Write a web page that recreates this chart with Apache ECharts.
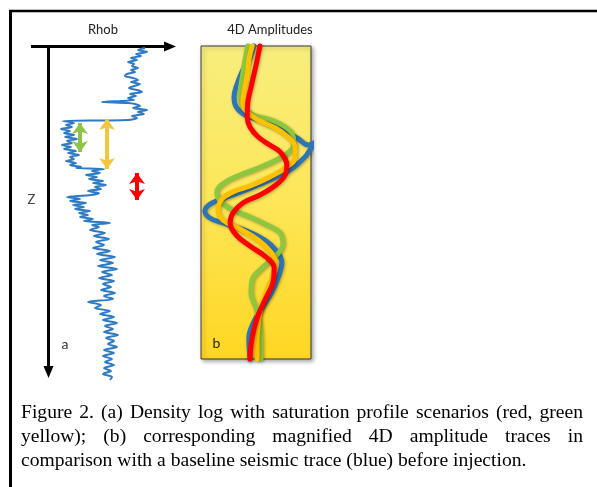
<!DOCTYPE html>
<html>
<head>
<meta charset="utf-8">
<script src="https://cdn.jsdelivr.net/npm/echarts/dist/echarts.min.js"></script>
<style>
  html, body { margin: 0; padding: 0; background: #ffffff; }
  #chart { width: 597px; height: 487px; }
</style>
</head>
<body>
<div id="chart"></div>
<script>
// ---- (a) density log: depth (m) and bulk density Rhob (g/cc) ----
const logDepth = [
  2, 4, 6, 8, 10, 12, 14, 16, 18, 20, 22, 24, 26, 28, 30, 32, 34, 36, 38, 40,
  42, 44, 46, 48, 50, 52, 54, 56, 57, 58, 60, 62, 64, 66, 68, 70, 72, 74, 75,
  77, 79, 81, 83, 85, 87, 89, 91, 93, 95, 97, 99, 101, 103, 105, 107, 109, 111,
  113, 115, 117, 119, 121, 122, 123,
  125, 127, 129, 131, 133, 135, 137, 139, 141, 143, 145, 147, 149, 151,
  153, 155, 157, 159, 161, 163, 165, 167, 169, 171, 173, 175, 177, 179,
  181, 184, 187, 190, 193, 196, 199, 202, 205, 208, 211, 214, 217, 220, 223,
  226, 229, 232, 235, 238, 241, 244, 247, 250, 253, 256, 259, 262, 265, 268,
  271, 274, 277, 280, 283, 286, 289, 292, 295, 298, 301, 304, 307, 310, 313,
  316, 319, 322, 325, 328, 331, 334
];
const logRhob = [
  2.75, 2.68, 2.77, 2.66, 2.71, 2.61, 2.67, 2.58, 2.64, 2.62, 2.68, 2.61, 2.65, 2.57, 2.55, 2.63, 2.68, 2.61, 2.70, 2.64,
  2.59, 2.67, 2.72, 2.60, 2.66, 2.58, 2.64, 2.32, 2.58, 2.65, 2.70, 2.63, 2.77, 2.68, 2.74, 2.62, 2.67, 2.58, 1.93,
  2.04, 1.96, 2.02, 1.91, 2.00, 1.94, 2.04, 1.95, 2.07, 1.97, 2.02, 1.92, 2.01, 1.94, 2.06, 1.98, 2.09, 2.00,
  2.04, 1.96, 2.06, 2.00, 2.11, 2.06, 2.34,
  2.22, 2.30, 2.16, 2.27, 2.19, 2.33, 2.23, 2.36, 2.25, 2.31, 2.18, 2.29, 2.21, 1.97,
  2.10, 2.00, 2.16, 2.03, 2.14, 2.05, 2.20, 2.09, 2.18, 2.10, 2.23, 2.14, 2.40, 2.22,
  2.29, 2.20, 2.35, 2.24, 2.39, 2.26, 2.34, 2.23, 2.40, 2.27, 2.45, 2.30, 2.43, 2.28, 2.47,
  2.32, 2.42, 2.29, 2.44, 2.33, 2.41, 2.31, 2.45, 2.34, 2.43, 2.18, 2.31, 2.25, 2.40, 2.30,
  2.44, 2.33, 2.47, 2.35, 2.43, 2.34, 2.48, 2.36, 2.44, 2.38, 2.47, 2.34, 2.44, 2.33, 2.42,
  2.35, 2.44, 2.34, 2.41, 2.33, 2.42, 2.40
];

// ---- saturation profile scenarios marked beside the log ----
const profileNames = ['green', 'yellow', 'red'];
const profileRhob = [2.10, 2.37, 2.67];
const profileTop = [77, 73, 127];
const profileBase = [106, 123, 154];

// ---- (b) 4D amplitude traces: [normalised amplitude, time sample] ----
const baselineTrace = [
  [-0.04, 0], [-0.11, 12], [-0.24, 24], [-0.35, 39], [-0.40, 51], [-0.36, 61],
  [-0.20, 69], [0.11, 75], [0.45, 83], [0.75, 92], [0.95, 99], [1.11, 95],
  [0.98, 104], [0.89, 111], [0.62, 124], [0.13, 137], [-0.42, 149], [-0.80, 157],
  [-0.93, 165], [-0.84, 172], [-0.60, 177], [-0.16, 185], [0.16, 194], [0.36, 204],
  [0.47, 216], [0.42, 229], [0.29, 246], [0.11, 262], [-0.05, 277], [-0.13, 292],
  [-0.11, 313]
];
const greenTrace = [
  [-0.15, 0], [-0.20, 14], [-0.25, 31], [-0.29, 47], [-0.24, 61], [-0.05, 69],
  [0.22, 73], [0.44, 78], [0.65, 87], [0.69, 98], [0.58, 107], [0.33, 115],
  [0.04, 122], [-0.29, 129], [-0.58, 137], [-0.71, 146], [-0.65, 155], [-0.42, 164],
  [-0.11, 171], [0.16, 178], [0.44, 187], [0.49, 198], [0.36, 210], [0.11, 222],
  [-0.07, 234], [-0.09, 247], [0.00, 262], [0.07, 279], [0.09, 294], [0.09, 313]
];
const yellowTrace = [
  [-0.07, 0], [-0.13, 14], [-0.16, 29], [-0.22, 46], [-0.24, 57], [-0.16, 66],
  [0.04, 74], [0.35, 82], [0.58, 91], [0.71, 101], [0.71, 111], [0.56, 121],
  [0.25, 131], [-0.11, 140], [-0.42, 146], [-0.62, 153], [-0.69, 164], [-0.60, 174],
  [-0.29, 183], [0.04, 194], [0.25, 205], [0.35, 216], [0.31, 229], [0.20, 244],
  [0.09, 262], [0.04, 279], [0.02, 294], [0.02, 313]
];
const redTrace = [
  [0.07, 0], [0.02, 14], [-0.02, 24], [-0.09, 41], [-0.15, 57], [-0.16, 71],
  [-0.11, 81], [0.04, 91], [0.25, 99], [0.44, 106], [0.56, 119], [0.53, 129],
  [0.36, 139], [0.07, 149], [-0.24, 157], [-0.42, 167], [-0.47, 177], [-0.36, 189],
  [-0.11, 200], [0.18, 211], [0.33, 222], [0.31, 236], [0.18, 252], [0.04, 269],
  [-0.04, 284], [-0.09, 299], [-0.11, 313]
];

// ---- text ----
const panelTitles = ['Rhob', '4D Amplitudes'];
const captionLines = [
  'Figure 2. (a) Density log with saturation profile scenarios (red, green',
  'yellow); (b) corresponding magnified 4D amplitude traces in',
  'comparison with a baseline seismic trace (blue) before injection.'
];

// ---- layout and style ----
const LOG_GRID = { left: 48, top: 46, width: 127, height: 332 };
const AMP_GRID = { left: 201, top: 46, width: 110, height: 313 };
const profileColor = { green: '#8DC447', yellow: '#F1C63E', red: '#FF0000' };
const labelFont = 'Lato, "Open Sans", sans-serif';
const captionFont = '19.6px "Liberation Serif", "Times New Roman", serif';
const CAPTION_LEFT = 21, CAPTION_RIGHT = 583, CAPTION_Y = 413, CAPTION_LEADING = 24;

const measureCtx = document.createElement('canvas').getContext('2d');
measureCtx.font = captionFont;

// Caption: every line but the last is justified across the column
function captionGraphics() {
  const els = [];
  captionLines.forEach((line, i) => {
    const y = CAPTION_Y + i * CAPTION_LEADING;
    if (i === captionLines.length - 1) {
      els.push({ type: 'text', x: CAPTION_LEFT, y: y,
        style: { text: line, font: captionFont, fill: '#000', align: 'left', verticalAlign: 'middle' } });
      return;
    }
    const words = line.split(' ');
    const widths = words.map(w => measureCtx.measureText(w).width);
    const total = widths.reduce((a, b) => a + b, 0);
    const gap = (CAPTION_RIGHT - CAPTION_LEFT - total) / (words.length - 1);
    let x = CAPTION_LEFT;
    words.forEach((w, k) => {
      els.push({ type: 'text', x: x, y: y,
        style: { text: w, font: captionFont, fill: '#000', align: 'left', verticalAlign: 'middle' } });
      x += widths[k] + gap;
    });
  });
  return els;
}

// Axis arrows of the log panel
function logAxisArrows() {
  const x0 = LOG_GRID.left + 0.5, y0 = LOG_GRID.top + 0.5;
  const xEnd = LOG_GRID.left + LOG_GRID.width + 1;
  const yEnd = LOG_GRID.top + LOG_GRID.height;
  return [
    { type: 'line', shape: { x1: 31, y1: y0, x2: xEnd - 10, y2: y0 },
      style: { stroke: '#000', lineWidth: 3 } },
    { type: 'polygon', shape: { points: [[xEnd, y0], [xEnd - 12, y0 - 5], [xEnd - 12, y0 + 5]] },
      style: { fill: '#000' } },
    { type: 'line', shape: { x1: x0, y1: y0 - 1.5, x2: x0, y2: yEnd - 10 },
      style: { stroke: '#000', lineWidth: 3 } },
    { type: 'polygon', shape: { points: [[x0, yEnd], [x0 - 5, yEnd - 12], [x0 + 5, yEnd - 12]] },
      style: { fill: '#000' } }
  ];
}

const chart = echarts.init(document.getElementById('chart'), null, { renderer: 'canvas' });

const traceStyle = (color) => ({
  type: 'line', xAxisIndex: 1, yAxisIndex: 1, smooth: 0.4, showSymbol: false, clip: false,
  lineStyle: { color: color, width: 5, cap: 'round', join: 'round',
    shadowColor: 'rgba(0,0,0,0.3)', shadowBlur: 3, shadowOffsetX: 1, shadowOffsetY: 1 }
});

const series = [
  {
    name: 'Rhob', type: 'line', xAxisIndex: 0, yAxisIndex: 0, showSymbol: false, clip: false,
    smooth: 0.3,
    data: logDepth.map((d, i) => [logRhob[i], d]),
    lineStyle: { color: '#2E7AC4', width: 2, join: 'round' }
  }
];
profileNames.forEach((n, i) => {
  series.push({
    name: n + ' profile', type: 'line', xAxisIndex: 0, yAxisIndex: 0, data: [],
    markLine: {
      silent: true, animation: false,
      symbol: ['arrow', 'arrow'], symbolSize: [12, 11],
      label: { show: false },
      lineStyle: { color: profileColor[n], width: 4, type: 'solid' },
      data: [[{ coord: [profileRhob[i], profileTop[i]] }, { coord: [profileRhob[i], profileBase[i]] }]]
    }
  });
});
series.push(Object.assign({ name: 'baseline', data: baselineTrace }, traceStyle('#2E75B6')));
series.push(Object.assign({ name: 'green', data: greenTrace }, traceStyle('#8DC63F')));
series.push(Object.assign({ name: 'yellow', data: yellowTrace }, traceStyle('#FFC000')));
series.push(Object.assign({ name: 'red', data: redTrace }, traceStyle('#FF0000')));

chart.setOption({
  animation: false,
  backgroundColor: '#ffffff',
  grid: [
    Object.assign({ show: false }, LOG_GRID),
    Object.assign({
      show: true,
      backgroundColor: new echarts.graphic.LinearGradient(0, 0, 0, 1, [
        { offset: 0, color: '#F8EE7E' },
        { offset: 0.5, color: '#FDE658' },
        { offset: 1, color: '#FFD622' }
      ]),
      borderColor: '#3a3a3a', borderWidth: 1,
      shadowColor: 'rgba(0,0,0,0.35)', shadowBlur: 4, shadowOffsetX: 2, shadowOffsetY: 2
    }, AMP_GRID)
  ],
  xAxis: [
    { type: 'value', gridIndex: 0, min: 1.78, max: 3.05, show: false },
    { type: 'value', gridIndex: 1, min: -1, max: 1, show: false }
  ],
  yAxis: [
    { type: 'value', gridIndex: 0, inverse: true, min: 0, max: 332, show: false },
    { type: 'value', gridIndex: 1, inverse: true, min: 0, max: 313, show: false }
  ],
  series: series,
  graphic: [
    // figure frame
    { type: 'line', shape: { x1: 9, y1: 11, x2: 597, y2: 11 }, style: { stroke: '#000', lineWidth: 2.5 } },
    { type: 'line', shape: { x1: 10.5, y1: 10, x2: 10.5, y2: 487 }, style: { stroke: '#000', lineWidth: 3 } },
    { type: 'text', x: 103, y: 30, style: { text: panelTitles[0], font: '13px ' + labelFont, fill: '#222', align: 'center', verticalAlign: 'middle' } },
    { type: 'text', x: 270, y: 30, style: { text: panelTitles[1], font: '13px ' + labelFont, fill: '#222', align: 'center', verticalAlign: 'middle' } },
    { type: 'text', x: 31.5, y: 200, style: { text: 'Z', font: '13px ' + labelFont, fill: '#444', align: 'center', verticalAlign: 'middle' } },
    { type: 'text', x: 65, y: 344, style: { text: 'a', font: '14px ' + labelFont, fill: '#333', align: 'center', verticalAlign: 'middle' } },
    { type: 'text', x: 216.5, y: 343, z: 10, style: { text: 'b', font: '14px ' + labelFont, fill: '#222', align: 'center', verticalAlign: 'middle' } }
  ].concat(logAxisArrows(), captionGraphics())
});
</script>
</body>
</html>
